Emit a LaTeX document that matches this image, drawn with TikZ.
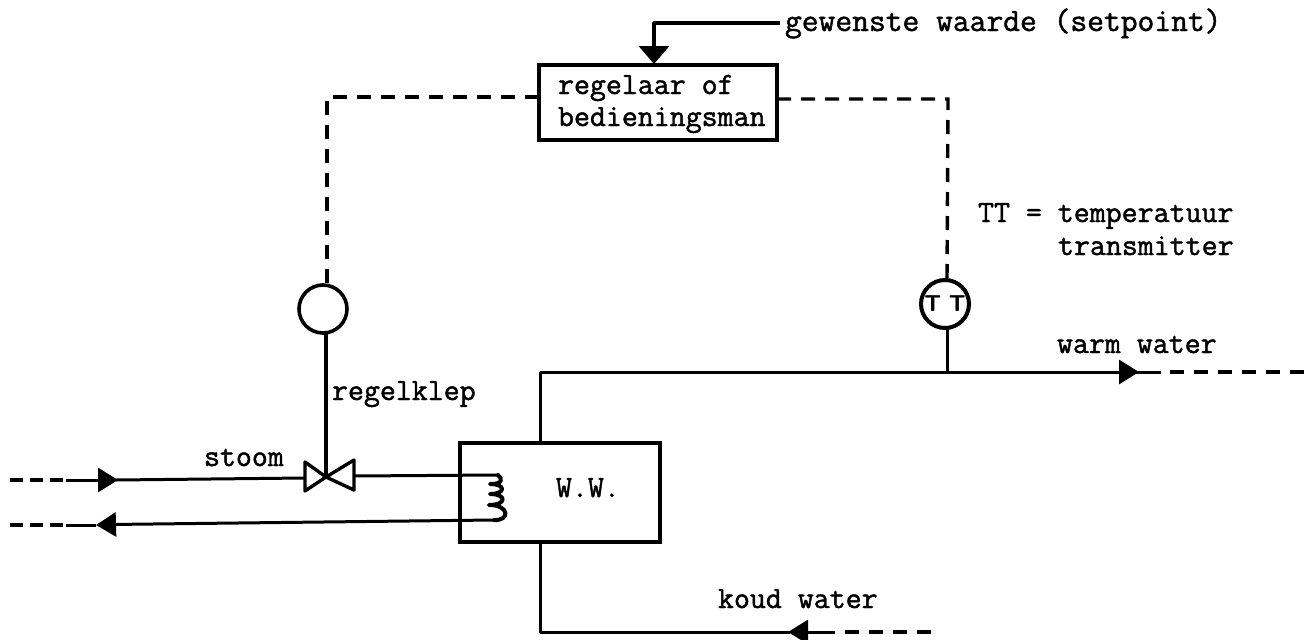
\documentclass[tikz,border=0pt]{standalone}
\usepackage{fontspec}
\setmonofont{Latin Modern Mono}[FakeBold=1.4]
\usetikzlibrary{arrows.meta,calc}
\tikzset{
  x=1pt,y=-1pt,
  pipe/.style={line width=3pt,line join=round},
  sig/.style={line width=3.4pt,dash pattern=on 14pt off 10pt},
  shortsig/.style={line width=3.2pt,dash pattern=on 13pt off 7pt},
  flowtip/.style={-{Triangle[length=20pt,width=24pt]}},
  lbl/.style={anchor=base west,inner sep=0pt,outer sep=0pt,font=\ttfamily\fontsize{31}{36}\selectfont},
  lblwide/.style={lbl,font=\ttfamily\fontsize{32.6}{36}\selectfont},
  box/.style={draw,line width=3.6pt,inner sep=0pt,outer sep=0pt},
  instr/.style={draw,circle,line width=3.6pt,minimum size=48pt,inner sep=0pt,outer sep=0pt},
}
\begin{document}
\begin{tikzpicture}
\useasboundingbox (0,0) rectangle (1315,640);
% boxes
\node[box,minimum width=238pt,minimum height=75pt] (ctrl) at (658,102.5) {};
\node[box,minimum width=200pt,minimum height=99pt] (ww) at (560,492.5) {};
\node[instr] (cv) at (323,309) {};
\node[instr,line width=4pt,font=\sffamily\bfseries\fontsize{23}{23}\selectfont] (tt) at (945,304) {T\,\,T};
% labels
\node[lblwide] (setp) at (785,31) {gewenste waarde (setpoint)};
\node[lbl] (l1) at (558,94) {regelaar of};
\node[lbl] (l2) at (558,126) {bedieningsman};
\node[lbl] (l3) at (978,222) {TT = temperatuur};
\node[lbl] (l4) at (1058,255) {transmitter};
\node[lbl] (l5) at (1057,353) {warm water};
\node[lbl] (l6) at (332,400) {regelklep};
\node[lbl] (l7) at (204,466) {stoom};
\node[lbl] (l8) at (556,497) {W.W.};
\node[lbl] (l9) at (718,608) {koud water};
% coordinates
\coordinate (v) at (326,477);
\coordinate (vl) at (305,478);
\coordinate (vr) at (354,476);
% setpoint
\draw[pipe,line width=3.8pt] (setp.base west |- 0,23) ++(-5,0) coordinate (s0) -- (654,23) -- (654,50);
\draw[pipe,line width=3.8pt,-{Triangle[length=18pt,width=30pt]}] (654,45) -- (654,64);
% signal lines
\draw[sig] (ctrl.west |- 0,97) -- (327,97) -- (cv.north -| 327,0);
\draw[sig] (ctrl.east |- 0,99) -- (948,99) -- (947,280);
% stems
\draw[pipe,line width=3.6pt] (326,333) -- (v);
\draw[pipe] (tt.south -| 947,0) -- (947,372);
% valve
\draw[line width=3.4pt,line join=round] (v) -- (305,462) -- (305,491) -- cycle;
\draw[line width=3.4pt,line join=round] (v) -- (354,460) -- (354,490) -- cycle;
% steam in
\draw[shortsig] (10,480) -- (66,480);
\draw[pipe,flowtip] (66,480) -- (118,480);
\draw[pipe] (116,480) -- (vl);
\draw[pipe] (vr) -- (498,475);
% coil
\draw[line width=4pt,line cap=round,line join=round] (498,475)
  .. controls (503,479) and (503,484) .. (490,484)
  .. controls (506,484) and (506,494) .. (490,494)
  .. controls (507,494) and (507,505) .. (489,505)
  .. controls (510,505) and (510,521) .. (494,520);
% condensate
\draw[pipe] (494,520) -- (110,524.5);
\draw[pipe,flowtip] (115,524.5) -- (96,525);
\draw[pipe] (96,525) -- (66,525);
\draw[shortsig] (10,525) -- (66,525);
% warm water
\draw[pipe] (540,443) -- (540,372) -- (1125,372);
\draw[pipe,flowtip] (1120,372) -- (1139,372);
\draw[pipe] (1135,372) -- (1161,372);
\draw[sig] (1170,372) -- (1306,372);
% cold water
\draw[pipe] (540,542) -- (540,632) -- (790,632);
\draw[pipe,flowtip] (808,632) -- (788,632);
\draw[pipe] (808,632) -- (835,632);
\draw[sig] (845,632) -- (936,632);
\end{tikzpicture}
\end{document}
